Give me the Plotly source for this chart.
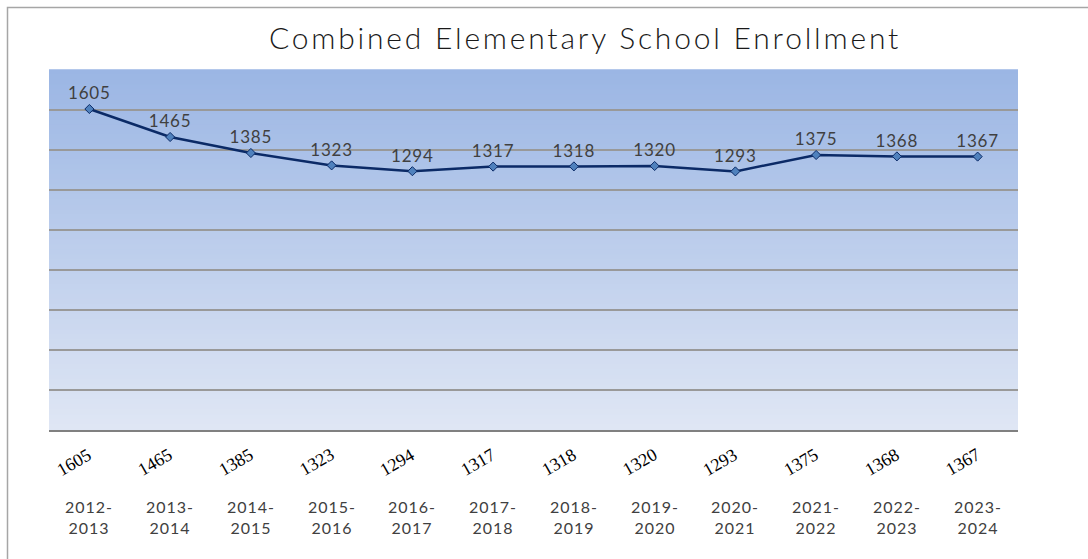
import plotly.graph_objects as go

years = ["2012-2013", "2013-2014", "2014-2015", "2015-2016", "2016-2017", "2017-2018",
         "2018-2019", "2019-2020", "2020-2021", "2021-2022", "2022-2023", "2023-2024"]
enrollment = [1605, 1465, 1385, 1323, 1294, 1317, 1318, 1320, 1293, 1375, 1368, 1367]
title_text = "Combined Elementary School Enrollment"

W, H = 1088, 559
L, R, T, B = 49, 70, 70, 129
plot_w = W - L - R
plot_h = H - T - B

fig = go.Figure()

fig.add_trace(go.Scatter(
    x=years, y=enrollment,
    mode="lines+markers+text",
    text=['<span style="letter-spacing:0.8px">%d</span>' % v for v in enrollment],
    textposition="top center",
    textfont=dict(family="Lato", size=17, weight=400, color="#404040"),
    line=dict(color="#0b2a66", width=2.5),
    marker=dict(symbol="diamond", size=7, color="#4f81bd",
                line=dict(color="#0b2a66", width=1)),
    cliponaxis=False,
    showlegend=False,
    hoverinfo="skip",
))

# gradient background strips
top_c = (155, 182, 228)
bot_c = (223, 230, 244)
n = 72
shapes = []
for i in range(n):
    t = i / (n - 1)
    c = tuple(int(round(top_c[k] + (bot_c[k] - top_c[k]) * t)) for k in range(3))
    y1 = 1 - i / n
    y0 = 1 - (i + 1) / n
    shapes.append(dict(type="rect", xref="paper", yref="paper", x0=0, x1=1,
                       y0=y0, y1=y1 + 0.002, fillcolor="rgb(%d,%d,%d)" % c,
                       line=dict(width=0), layer="below"))

# outer chart border
shapes.append(dict(type="rect", xref="paper", yref="paper",
                   x0=(7.5 - L) / plot_w, x1=1.5,
                   y0=-1.0, y1=(H - B - 7.5) / plot_h,
                   line=dict(color="#a6a6a6", width=1.5), fillcolor="rgba(0,0,0,0)",
                   layer="below"))

annotations = []
# category labels (two lines)
for yr in years:
    a, b = yr.split("-")
    annotations.append(dict(x=yr, xref="x", yref="paper",
                            y=(H - B - 517) / plot_h, yanchor="middle",
                            text='<span style="letter-spacing:1px">' + a + "-<br>" + b + "</span>",
                            showarrow=False,
                            font=dict(family="Lato", size=16, weight=400, color="#404040")))
# rotated value row
for yr, v in zip(years, enrollment):
    annotations.append(dict(x=yr, xref="x", yref="paper",
                            y=(H - B - 462) / plot_h, yanchor="middle",
                            xshift=-15, text=str(v), textangle=-30, showarrow=False,
                            font=dict(family="Liberation Serif", size=18, color="#000000")))

fig.update_layout(
    width=W, height=H,
    margin=dict(l=L, r=R, t=T, b=B),
    paper_bgcolor="white",
    plot_bgcolor="rgba(0,0,0,0)",
    hovermode=False,
    title=dict(text='<span style="letter-spacing:2.8px">' + title_text + "</span>",
               x=585 / W, xanchor="center", y=1 - 38 / H,
               yanchor="middle",
               font=dict(family="Lato", size=30, weight=300, color="#1a1a1a")),
    shapes=shapes,
    annotations=annotations,
    xaxis=dict(type="category", range=[-0.5, len(years) - 0.5], showticklabels=False,
               showgrid=False, showline=True, linecolor="#808080", linewidth=1.5,
               ticks="", fixedrange=True),
    yaxis=dict(range=[0, 1800], dtick=200, showticklabels=False, showgrid=True,
               gridcolor="#999999", gridwidth=1.5, zeroline=False, showline=False,
               ticks="", fixedrange=True),
)

fig.write_html("out.html", config={"displayModeBar": False},
               post_script="document.body.style.margin='0';document.body.style.overflow='hidden';")
